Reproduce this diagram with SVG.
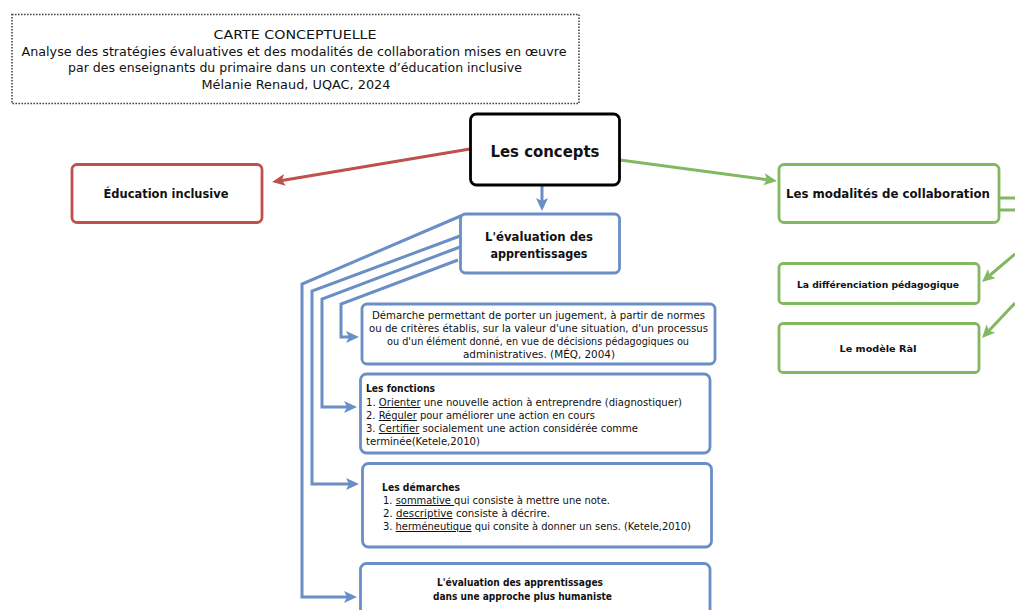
<svg xmlns="http://www.w3.org/2000/svg" width="1015" height="610" viewBox="0 0 1015 610">
<defs>
<style>
text{font-family:"DejaVu Sans","Liberation Sans",sans-serif;fill:#111;}
.b{font-weight:bold;}
.box{fill:#fff;stroke-width:2.8;}
.blue{stroke:#6a8ec6;}
.red{stroke:#c0504d;}
.green{stroke:#82b862;}
.con{fill:none;stroke-width:3;stroke-linejoin:miter;}
.u{text-decoration:underline;}
</style>
<marker id="ab" viewBox="0 0 13 12" refX="3" refY="6" markerWidth="13" markerHeight="12" markerUnits="userSpaceOnUse" orient="auto"><path d="M0,0 L13,6 L0,12 L3,6 z" fill="#6a8ec6"/></marker>
<marker id="ar" viewBox="0 0 13 12" refX="3" refY="6" markerWidth="13" markerHeight="12" markerUnits="userSpaceOnUse" orient="auto"><path d="M0,0 L13,6 L0,12 L3,6 z" fill="#c0504d"/></marker>
<marker id="ag" viewBox="0 0 13 12" refX="3" refY="6" markerWidth="13" markerHeight="12" markerUnits="userSpaceOnUse" orient="auto"><path d="M0,0 L13,6 L0,12 L3,6 z" fill="#82b862"/></marker>
</defs>
<rect width="1015" height="610" fill="#fff"/>

<g id="title">
<rect x="12" y="14.5" width="567" height="89" fill="#fff" stroke="#444" stroke-width="1.6" stroke-dasharray="1.6 1.4"/>
<text x="295" y="39" font-size="13" text-anchor="middle" textLength="163" lengthAdjust="spacingAndGlyphs">CARTE CONCEPTUELLE</text>
<text x="294" y="56" font-size="12.5" text-anchor="middle" textLength="545" lengthAdjust="spacingAndGlyphs">Analyse des stratégies évaluatives et des modalités de collaboration mises en œuvre</text>
<text x="295" y="72" font-size="12.5" text-anchor="middle" textLength="454" lengthAdjust="spacingAndGlyphs">par des enseignants du primaire dans un contexte d’éducation inclusive</text>
<text x="296" y="89" font-size="12.5" text-anchor="middle" textLength="189" lengthAdjust="spacingAndGlyphs">Mélanie Renaud, UQAC, 2024</text>
</g>

<g id="connectors">
<path class="con red" d="M470,149 L282,180.4" marker-end="url(#ar)"/>
<path class="con green" d="M620,160 L767,179.7" marker-end="url(#ag)"/>
<path class="con blue" d="M542,186 L542,201" marker-end="url(#ab)" stroke-width="2.5"/>
<path class="con blue" d="M463,215 L302,284 L302,597 L347,597" marker-end="url(#ab)"/>
<path class="con blue" d="M460,236 L312,291 L312,484 L349,484" marker-end="url(#ab)"/>
<path class="con blue" d="M460,247 L322,299 L322,407 L347,407" marker-end="url(#ab)"/>
<path class="con blue" d="M458,260 L341,304 L341,337 L349,337" marker-end="url(#ab)"/>
<path class="con green" d="M999,198 L1015,198 M999,210 L1015,210"/>
<path class="con green" d="M1015,254 L989.6,275.5" marker-end="url(#ag)"/>
<path class="con green" d="M1015,303 L988.9,330.7" marker-end="url(#ag)"/>
</g>

<g id="concepts">
<rect class="box" x="470.5" y="114" width="149" height="71" rx="6" stroke="#000" stroke-width="3"/>
<text class="b" x="545" y="157" font-size="15" text-anchor="middle" textLength="109" lengthAdjust="spacingAndGlyphs">Les concepts</text>
</g>

<g id="education">
<rect class="box red" x="72" y="164.5" width="190" height="58" rx="5"/>
<text class="b" x="166" y="198" font-size="11.5" text-anchor="middle" textLength="125" lengthAdjust="spacingAndGlyphs">Éducation inclusive</text>
</g>

<g id="modalites">
<rect class="box green" x="779" y="164.5" width="220" height="58" rx="5"/>
<text class="b" x="888" y="198" font-size="11.5" text-anchor="middle" textLength="204" lengthAdjust="spacingAndGlyphs">Les modalités de collaboration</text>
</g>

<g id="differenciation">
<rect class="box green" x="779" y="263.5" width="200" height="40" rx="4"/>
<text class="b" x="878" y="288" font-size="9" text-anchor="middle" textLength="162" lengthAdjust="spacingAndGlyphs">La différenciation pédagogique</text>
</g>

<g id="rai">
<rect class="box green" x="779" y="323.5" width="200" height="49" rx="4"/>
<text class="b" x="878" y="352" font-size="9" text-anchor="middle" textLength="77" lengthAdjust="spacingAndGlyphs">Le modèle RàI</text>
</g>

<g id="evaluation">
<rect class="box blue" x="460.5" y="214" width="159" height="59" rx="5"/>
<text class="b" x="539" y="241" font-size="12.5" text-anchor="middle" textLength="108" lengthAdjust="spacingAndGlyphs">L'évaluation des</text>
<text class="b" x="539" y="258" font-size="12.5" text-anchor="middle" textLength="97" lengthAdjust="spacingAndGlyphs">apprentissages</text>
</g>

<g id="definition">
<rect class="box blue" x="362" y="304" width="353" height="60" rx="5"/>
<text x="538.5" y="319" font-size="10" text-anchor="middle" textLength="333" lengthAdjust="spacingAndGlyphs">Démarche permettant de porter un jugement, à partir de normes</text>
<text x="538.5" y="332" font-size="10" text-anchor="middle" textLength="339" lengthAdjust="spacingAndGlyphs">ou de critères établis, sur la valeur d'une situation, d'un processus</text>
<text x="538" y="345" font-size="10" text-anchor="middle" textLength="302" lengthAdjust="spacingAndGlyphs">ou d'un élément donné, en vue de décisions pédagogiques ou</text>
<text x="539" y="358" font-size="10" text-anchor="middle" textLength="152" lengthAdjust="spacingAndGlyphs">administratives. (MÉQ, 2004)</text>
</g>

<g id="fonctions">
<rect class="box blue" x="360.5" y="374" width="349.5" height="79" rx="6"/>
<text class="b" x="366" y="392" font-size="10" textLength="69" lengthAdjust="spacingAndGlyphs">Les fonctions</text>
<text x="366" y="406" font-size="10" textLength="316" lengthAdjust="spacingAndGlyphs">1. <tspan class="u">Orienter</tspan> une nouvelle action à entreprendre (diagnostiquer)</text>
<text x="366" y="419" font-size="10" textLength="229" lengthAdjust="spacingAndGlyphs">2. <tspan class="u">Réguler</tspan> pour améliorer une action en cours</text>
<text x="366" y="432" font-size="10" textLength="272" lengthAdjust="spacingAndGlyphs">3. <tspan class="u">Certifier</tspan> socialement une action considérée comme</text>
<text x="366" y="445" font-size="10" textLength="114" lengthAdjust="spacingAndGlyphs">terminée(Ketele,2010)</text>
</g>

<g id="demarches">
<rect class="box blue" x="362.5" y="463.5" width="349" height="83.5" rx="6"/>
<text class="b" x="382" y="491" font-size="10" textLength="78" lengthAdjust="spacingAndGlyphs">Les démarches</text>
<text x="383" y="504" font-size="10" textLength="227" lengthAdjust="spacingAndGlyphs">1.  <tspan class="u">sommative </tspan>qui consiste à mettre une note.</text>
<text x="383" y="517" font-size="10" textLength="167" lengthAdjust="spacingAndGlyphs">2. <tspan class="u">descriptive</tspan> consiste à décrire.</text>
<text x="383" y="530" font-size="10" textLength="308" lengthAdjust="spacingAndGlyphs">3. <tspan class="u">herméneutique</tspan> qui consite à donner un sens. (Ketele,2010)</text>
</g>

<g id="humaniste">
<rect class="box blue" x="360.5" y="563.5" width="349.5" height="60" rx="6"/>
<text class="b" x="520" y="586" font-size="10" text-anchor="middle" textLength="166" lengthAdjust="spacingAndGlyphs">L'évaluation des apprentissages</text>
<text class="b" x="522.5" y="600" font-size="10" text-anchor="middle" textLength="179" lengthAdjust="spacingAndGlyphs">dans une approche plus humaniste</text>
</g>
</svg>
